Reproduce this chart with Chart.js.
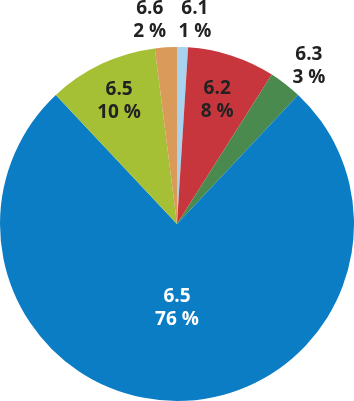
<!DOCTYPE html>
<html>
<head>
<meta charset="utf-8">
<script src="https://cdn.jsdelivr.net/npm/chart.js@4"></script>
<style>
  html, body { margin: 0; padding: 0; background: #fff; }
  canvas { display: block; }
</style>
</head>
<body>
<canvas id="pie" width="354" height="401"></canvas>
<script>
const categories = ['6.1', '6.2', '6.3', '6.5', '6.5', '6.6']
const shares = [1, 8, 3, 76, 10, 2]
const colours = ['#a8d3ef', '#c8363d', '#4a8a4f', '#0b7dc4', '#a6c035', '#d99a5a']
const labelColours = ['#222', '#222', '#222', '#fff', '#222', '#222']

// where each label sits: distance from centre (px) and angle nudge (deg)
const labelPlace = [[205, 3.2], [130, 0], [206, 2], [84, 0], [136, 0], [206, -4]]

const sliceLabels = {
  id: 'sliceLabels',
  afterDatasetsDraw (chart) {
    const ctx = chart.ctx
    const meta = chart.getDatasetMeta(0)
    ctx.save()
    ctx.font = 'bold 19px "Open Sans", sans-serif'
    ctx.textAlign = 'center'
    ctx.textBaseline = 'middle'
    meta.data.forEach(function (arc, i) {
      const mid = (arc.startAngle + arc.endAngle) / 2 + labelPlace[i][1] * Math.PI / 180
      const r = labelPlace[i][0]
      const x = arc.x + Math.cos(mid) * r
      const y = arc.y + Math.sin(mid) * r
      ctx.fillStyle = labelColours[i]
      ctx.fillText(categories[i], x, y - 11.5)
      ctx.fillText(shares[i] + ' %', x, y + 11.5)
    })
    ctx.restore()
  }
}

new Chart(document.getElementById('pie').getContext('2d'), {
  type: 'pie',
  data: {
    labels: categories,
    datasets: [{
      data: shares,
      backgroundColor: colours,
      borderWidth: 0
    }]
  },
  options: {
    responsive: false,
    animation: false,
    layout: { padding: { top: 47 } },
    plugins: {
      legend: { display: false },
      tooltip: { enabled: false }
    }
  },
  plugins: [sliceLabels]
})
</script>
</body>
</html>
